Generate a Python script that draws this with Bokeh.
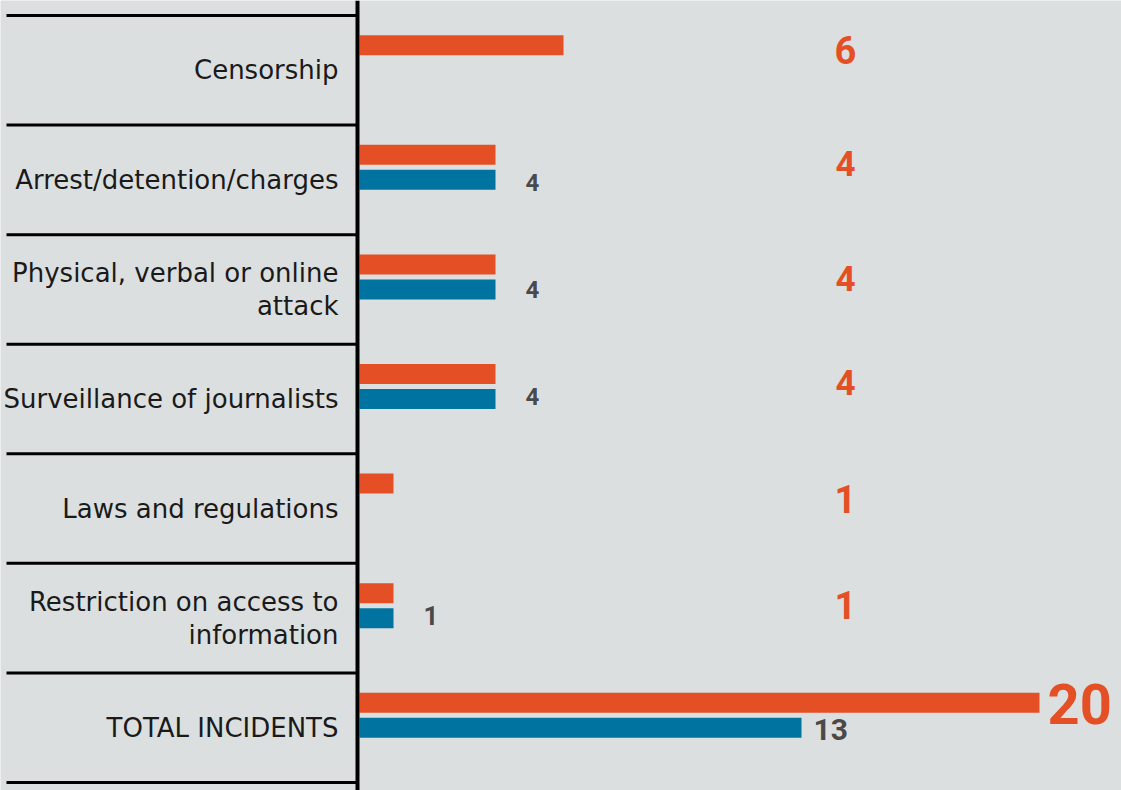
from bokeh.plotting import figure
from bokeh.models import Range1d, Span, ColumnDataSource
from bokeh.core.properties import value
from bokeh.embed import file_html
from bokeh.resources import INLINE

# ---- data ----
categories = [
    "Censorship",
    "Arrest/detention/charges",
    "Physical, verbal or online\nattack",
    "Surveillance of journalists",
    "Laws and regulations",
    "Restriction on access to\ninformation",
    "TOTAL INCIDENTS",
]
orange_values = [6, 4, 4, 4, 1, 1, 20]
blue_values = [None, 4, 4, 4, None, 1, 13]

# ---- styles / layout ----
BG = "#dcdfe0"
ORANGE = "#e44f26"
BLUE = "#0073a0"
GREY = "#4a4a4a"
W, H = 1121, 790
PX_PER_UNIT = 34.0
AXIS_PX = 359          # pixel of x=0 inside the figure
PITCH = 109.57         # pixels per row
TOP_PX = 15            # first separator pixel
BAR_PX = 20
ORANGE_SHIFT = -25     # px relative to row centre
orange_label_dy = [-20, -16, -11, -16, -10, -13, -24]   # px from row centre
orange_label_size = ["38px", "35px", "35px", "35px", "38px", "38px", "56px"]
blue_label_dy = [0, 3, 0, -2, 0, -3, 2]
blue_label_size = ["24px", "24px", "24px", "24px", "24px", "26px", "30px"]

n = len(categories)
x0 = -AXIS_PX / PX_PER_UNIT
x1 = (W - AXIS_PX) / PX_PER_UNIT
y_top = -0.5 - TOP_PX / PITCH
y_bot = y_top + H / PITCH

p = figure(width=W, height=H, output_backend="svg", toolbar_location=None,
           x_range=Range1d(x0, x1), y_range=Range1d(y_bot, y_top),
           min_border=0, min_border_left=0, min_border_right=0,
           min_border_top=0, min_border_bottom=0)
p.axis.visible = False
p.grid.visible = False
p.outline_line_color = None
p.background_fill_color = BG
p.border_fill_color = BG

rows = list(range(n))
px = 1.0 / PITCH

# separators
sep_y = [i - 0.5 for i in range(n + 1)]
p.segment(x0=[(6 - AXIS_PX) / PX_PER_UNIT] * len(sep_y), x1=[-2 / PX_PER_UNIT] * len(sep_y),
          y0=sep_y, y1=sep_y, line_color="black", line_width=3)

# bars
src_o = ColumnDataSource(dict(y=[r + ORANGE_SHIFT * px for r in rows], right=orange_values))
p.hbar(y="y", left=0, right="right", height=BAR_PX * px, source=src_o,
       fill_color=ORANGE, line_color=None)

b_rows = [r for r, v in zip(rows, blue_values) if v is not None]
b_vals = [v for v in blue_values if v is not None]
p.hbar(y=b_rows, left=0, right=b_vals, height=BAR_PX * px,
       fill_color=BLUE, line_color=None)

# axis line
p.add_layout(Span(location=-2 / PX_PER_UNIT, dimension="height",
                  line_color="black", line_width=4))

# category labels
p.text(x=[0] * n, y=rows, text=categories, x_offset=-21,
       text_align="right", text_baseline="middle",
       text_font=value("DejaVu Sans"), text_font_size="26px",
       text_color="#1a1a1a", text_line_height=1.1)

# orange value labels
label_col = (845 - AXIS_PX) / PX_PER_UNIT
for i, (v, dy, fs) in enumerate(zip(orange_values, orange_label_dy, orange_label_size)):
    if i == n - 1:
        p.text(x=[v], y=[i], text=[str(v)], x_offset=8, y_offset=dy,
               text_align="left", text_baseline="middle",
               text_font=value("Roboto"), text_font_style="bold",
               text_font_size=fs, text_color=ORANGE)
    else:
        p.text(x=[label_col], y=[i], text=[str(v)], y_offset=dy,
               text_align="center", text_baseline="middle",
               text_font=value("Roboto"), text_font_style="bold",
               text_font_size=fs, text_color=ORANGE)

# blue value labels
for i, (v, dy, fs) in enumerate(zip(blue_values, blue_label_dy, blue_label_size)):
    if v is None:
        continue
    off = 12 if i == n - 1 else 30
    p.text(x=[v], y=[i], text=[str(v)], x_offset=off, y_offset=dy,
           text_align="left", text_baseline="middle",
           text_font=value("Roboto"), text_font_style="bold",
           text_font_size=fs, text_color=GREY)

open("out.html", "w").write(file_html(p, INLINE))
